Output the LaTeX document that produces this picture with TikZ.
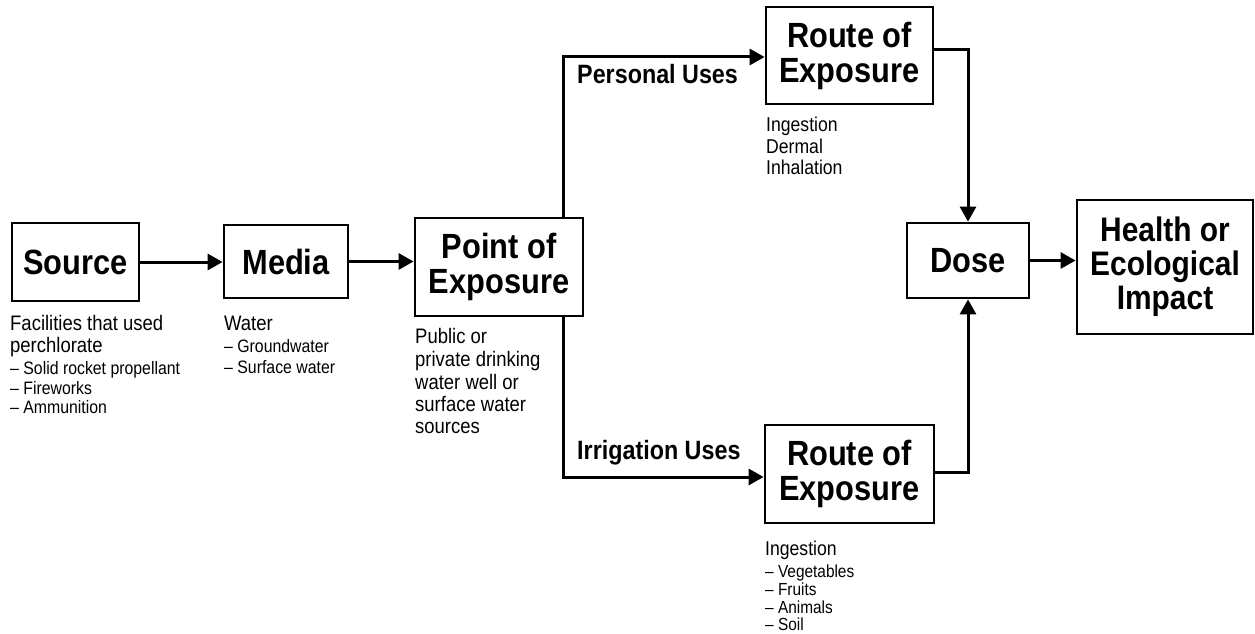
\documentclass[tikz,border=0pt]{standalone}
\usepackage{fontspec}
\setmainfont[FakeStretch=0.88]{Liberation Sans}
\usetikzlibrary{arrows.meta}
\begin{document}
\begin{tikzpicture}[x=1pt, y=-1pt,
  stage/.style={draw, line width=2.8pt, inner sep=0pt, align=center,
    font=\bfseries\fontsize{35}{35}\selectfont},
  flow/.style={line width=3pt, -{Triangle[length=15pt,width=16pt]}},
  line/.style={anchor=base west, inner sep=0pt},
  big/.style={line, font=\fontsize{21}{23}\selectfont},
  small/.style={line, font=\fontsize{18}{20}\selectfont},
  mid/.style={line, font=\fontsize{20}{21}\selectfont},
  tiny/.style={line, font=\fontsize{17.5}{19}\selectfont},
  uselabel/.style={line, font=\bfseries\fontsize{26.5}{28}\selectfont}]
\useasboundingbox (0,0) rectangle (1255,634);

% stage boxes
\node[stage, minimum width=127pt, minimum height=78pt] (src) at (75.5,262) {Source};
\node[stage, minimum width=124pt, minimum height=73pt] (media) at (286,261.5) {Media};
\node[stage, minimum width=168pt, minimum height=98pt] (poe) at (499,267) {Point of\\Exposure};
\node[stage, minimum width=167pt, minimum height=97pt] (rtop) at (849.5,55.5) {Route of\\Exposure};
\node[stage, minimum width=169pt, minimum height=98pt] (rbot) at (849.5,474) {Route of\\Exposure};
\node[stage, minimum width=122pt, minimum height=75pt] (dose) at (968,260.5) {Dose};
\node[stage, minimum width=176pt, minimum height=134pt,
  font=\bfseries\fontsize{34}{34}\selectfont] (impact) at (1165,267) {Health or\\Ecological\\Impact};

% connectors
\draw[flow] (src.east) -- (src.east -| media.west);
\draw[flow] (media.east) -- (media.east -| poe.west);
\draw[flow] ([xshift=64pt]poe.north) |- ([yshift=-1.5pt]rtop.west);
\draw[flow] ([xshift=64pt]poe.south) |- ([yshift=-3pt]rbot.west);
\draw[flow] ([yshift=5.5pt]rtop.east) -| (dose.north);
\draw[flow] ([yshift=2pt]rbot.east) -| (dose.south);
\draw[flow] (dose.east) -- (dose.east -| impact.west);

% branch labels
\node[uselabel] (personal) at (577,83) {Personal Uses};
\node[uselabel] (irrigation) at (577,459) {Irrigation Uses};

% notes under Source
\node[big] (s1) at (10,330) {Facilities that used};
\node[big] (s2) at (10,352) {perchlorate};
\node[small] (s3) at (10,374) {– Solid rocket propellant};
\node[small] (s4) at (10,394) {– Fireworks};
\node[small] (s5) at (10,413) {– Ammunition};

% notes under Media
\node[big] (m1) at (224,330) {Water};
\node[small] (m2) at (224,352) {– Groundwater};
\node[small] (m3) at (224,373) {– Surface water};

% notes under Point of Exposure
\node[big] (p1) at (415,343) {Public or};
\node[big] (p2) at (415,366) {private drinking};
\node[big] (p3) at (415,389) {water well or};
\node[big] (p4) at (415,411) {surface water};
\node[big] (p5) at (415,433) {sources};

% notes under the upper Route of Exposure
\node[mid] (t1) at (766,131) {Ingestion};
\node[mid] (t2) at (766,153) {Dermal};
\node[mid] (t3) at (766,174) {Inhalation};

% notes under the lower Route of Exposure
\node[mid] (b1) at (765,555) {Ingestion};
\node[tiny] (b2) at (765,577) {– Vegetables};
\node[tiny] (b3) at (765,595) {– Fruits};
\node[tiny] (b4) at (765,613) {– Animals};
\node[tiny] (b5) at (765,630) {– Soil};
\end{tikzpicture}
\end{document}
